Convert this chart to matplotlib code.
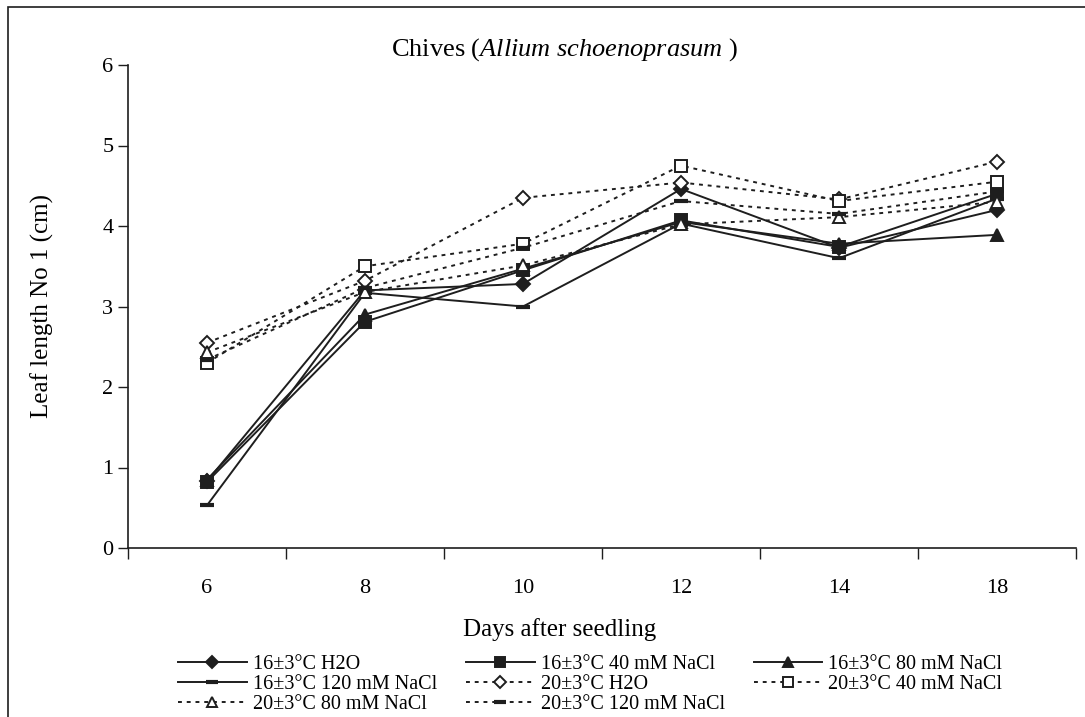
import numpy as np
import matplotlib
matplotlib.use('Agg')
import matplotlib.pyplot as plt
from matplotlib.patches import Rectangle

plt.rcParams['font.family'] = ['Liberation Serif', 'DejaVu Serif']
plt.rcParams['mathtext.fontset'] = 'custom'
plt.rcParams['mathtext.rm'] = 'Liberation Serif'
plt.rcParams['mathtext.it'] = 'Liberation Serif:italic'

days = ['6', '8', '10', '12', '14', '18']

# leaf length No 1 (cm), 16±3°C
h2o_16 = [0.83, 3.20, 3.28, 4.46, 3.73, 4.20]
nacl40_16 = [0.82, 2.81, 3.45, 4.07, 3.74, 4.40]
nacl80_16 = [0.85, 2.90, 3.47, 4.05, 3.78, 3.89]
nacl120_16 = [0.53, 3.17, 3.00, 4.03, 3.60, 4.34]

# leaf length No 1 (cm), 20±3°C
h2o_20 = [2.55, 3.32, 4.35, 4.54, 4.33, 4.80]
nacl40_20 = [2.30, 3.50, 3.78, 4.75, 4.31, 4.55]
nacl80_20 = [2.43, 3.18, 3.51, 4.02, 4.11, 4.30]
nacl120_20 = [2.34, 3.23, 3.73, 4.31, 4.15, 4.43]

labels = ['16±3°C H2O', '16±3°C 40 mM NaCl', '16±3°C 80 mM NaCl',
          '16±3°C 120 mM NaCl', '20±3°C H2O', '20±3°C 40 mM NaCl',
          '20±3°C 80 mM NaCl', '20±3°C 120 mM NaCl']

ink = '#1e1e1e'
dots = (0, (2, 2.5))

fig = plt.figure(figsize=(10.85, 7.17), dpi=100)
ax = fig.add_axes([128 / 1085, 1 - 548 / 717, 948 / 1085, 483 / 717])

x = np.arange(len(days))
series = [
    (h2o_16, '-', 'D', ink, 7),
    (nacl40_16, '-', 's', ink, 8),
    (nacl80_16, '-', '^', ink, 9),
    (nacl120_16, '-', '_', ink, 10),
    (h2o_20, dots, 'D', 'white', 7),
    (nacl40_20, dots, 's', 'white', 8),
    (nacl80_20, dots, '^', 'white', 9),
    (nacl120_20, dots, '_', 'white', 10),
]
handles = []
for (vals, ls, mk, fc, ms), lab in zip(series, labels):
    h, = ax.plot(x, vals, linestyle=ls, color=ink, lw=1.4, marker=mk, ms=ms,
                 mfc=fc, mec=ink, mew=1.4 if mk != '_' else 3, label=lab)
    handles.append(h)

ax.set_xlim(-0.5, len(days) - 0.5)
ax.set_ylim(0, 6)
ax.set_yticks(range(7))
ax.set_xticks(np.arange(-0.5, len(days)), [''] * (len(days) + 1))
ax.set_xticks(x, days, minor=True)
ax.tick_params(axis='x', which='major', length=8, width=1, direction='out', color=ink)
ax.tick_params(axis='x', which='minor', length=0, pad=22, labelsize=16)
ax.tick_params(axis='y', length=7, width=1, direction='out', labelsize=16, color=ink)
for s in ['top', 'right']:
    ax.spines[s].set_visible(False)
for s in ['left', 'bottom']:
    ax.spines[s].set_color(ink)
    ax.spines[s].set_linewidth(1.2)

ax.set_ylabel('Leaf length No 1 (cm)', fontsize=18)
ax.yaxis.set_label_coords((54 - 128) / 948, 0.5)
fig.text(560 / 1085, 1 - 630 / 717, 'Days after seedling', ha='center', va='center', fontsize=18)
fig.text(565 / 1085, 1 - 50 / 717, r'Chives ($\mathit{Allium\ schoenoprasum}$ )',
         ha='center', va='center', fontsize=19)

# legend filled row by row
order = [0, 3, 6, 1, 4, 7, 2, 5]
fig.legend([handles[i] for i in order], [labels[i] for i in order],
           loc='upper left', bbox_to_anchor=(168 / 1085, 1 - 645 / 717), ncol=3,
           frameon=False, fontsize=14.5, handlelength=3.4, columnspacing=1.45,
           labelspacing=0.05, handletextpad=0.3, borderpad=0, markerscale=0.85)

# outer frame around the chart area
fig.patches.append(Rectangle((8 / 1085, -0.1), 1.2, 1 - 7 / 717 + 0.1,
                             transform=fig.transFigure, fill=False, ec=ink, lw=1.2))

fig.savefig('out.png', dpi=100)
